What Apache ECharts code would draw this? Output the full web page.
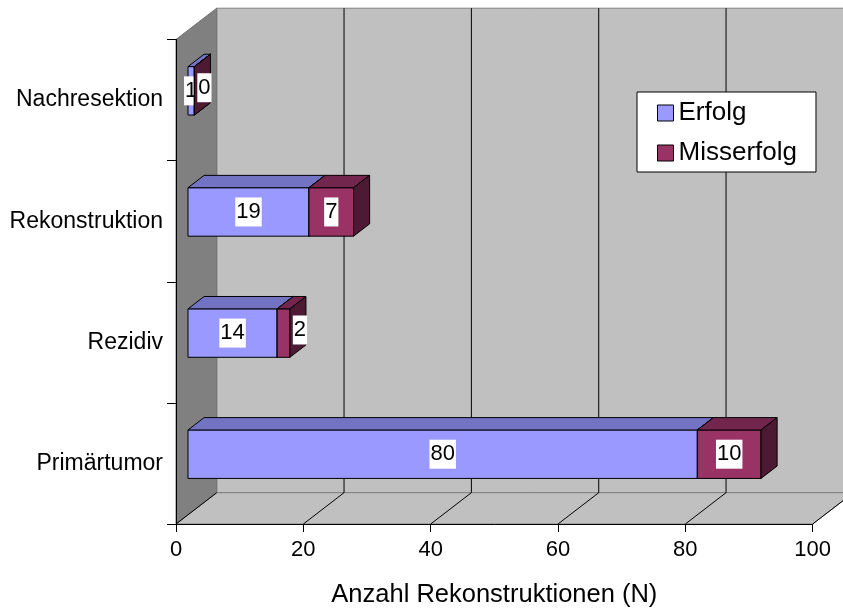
<!DOCTYPE html>
<html>
<head>
<meta charset="utf-8">
<script src="https://cdn.jsdelivr.net/npm/echarts@6/dist/echarts.min.js"></script>
<style>html,body{margin:0;padding:0;background:#fff;}#c{width:843px;height:613px;}</style>
</head>
<body>
<div id="c"></div>
<script>
const categories = ['Primärtumor', 'Rezidiv', 'Rekonstruktion', 'Nachresektion'];
const erfolg = [80, 14, 19, 1];
const misserfolg = [10, 2, 7, 0];
const xTicks = [0, 20, 40, 60, 80, 100];
const seriesNames = ['Erfolg', 'Misserfolg'];

const FONT = "'Liberation Sans', Arial, sans-serif";
const DX = 40.7, DY = -31.3;          // depth of the 3D box
const BAR_FRONT = 0.295, BAR_BACK = 0.69;
const BAR_RATIO = 0.4;
const faces = [
  { front: '#9999FF', top: '#7373C4', side: '#4D4D80' },
  { front: '#993366', top: '#73264D', side: '#4D1A33' }
];

const chart = echarts.init(document.getElementById('c'));

function wallsRender(params, api) {
  const cs = params.coordSys;
  const L = cs.x, T = cs.y, R = cs.x + cs.width, B = cs.y + cs.height;
  const children = [];
  children.push({ type: 'polygon', shape: { points: [[L + DX, T + DY], [R + DX, T + DY], [R + DX, B + DY], [L + DX, B + DY]] },
    style: { fill: '#C0C0C0', stroke: '#808080', lineWidth: 1 } });
  children.push({ type: 'polygon', shape: { points: [[L, B], [R, B], [R + DX, B + DY], [L + DX, B + DY]] },
    style: { fill: '#C0C0C0', stroke: '#808080', lineWidth: 1 } });
  children.push({ type: 'polygon', shape: { points: [[L, T], [L + DX, T + DY], [L + DX, B + DY], [L, B]] },
    style: { fill: '#808080', stroke: '#707070', lineWidth: 1 } });
  xTicks.forEach(function (v) {
    const xx = api.coord([v, 0])[0];
    if (v > 0) {
      children.push({ type: 'line', shape: { x1: xx + DX, y1: T + DY, x2: xx + DX, y2: B + DY }, style: { stroke: '#000', lineWidth: 1 } });
    }
    children.push({ type: 'line', shape: { x1: xx, y1: B, x2: xx + DX, y2: B + DY }, style: { stroke: '#000', lineWidth: 1 } });
  });
  return { type: 'group', children: children };
}

function makeBarRender(si, isLast) {
  return function (params, api) {
    const start = api.value(0), end = api.value(1), cat = api.value(2), val = api.value(3);
    const p0 = api.coord([start, cat]);
    const p1 = api.coord([end, cat]);
    const band = api.size([0, 1])[1];
    const h = band * BAR_RATIO;
    const fx = BAR_FRONT * DX, fy = BAR_FRONT * DY;
    const ddx = (BAR_BACK - BAR_FRONT) * DX, ddy = (BAR_BACK - BAR_FRONT) * DY;
    const x0 = p0[0] + fx, x1 = p1[0] + fx;
    const yc = p0[1] + fy;
    const top = yc - h / 2, bot = yc + h / 2;
    const f = faces[si];
    const st = { stroke: '#000', lineWidth: 1, lineJoin: 'round' };
    const children = [
      { type: 'polygon', shape: { points: [[x0, top], [x1, top], [x1, bot], [x0, bot]] }, style: Object.assign({ fill: f.front }, st) },
      { type: 'polygon', shape: { points: [[x0, top], [x1, top], [x1 + ddx, top + ddy], [x0 + ddx, top + ddy]] }, style: Object.assign({ fill: f.top }, st) },
      { type: 'polygon', shape: { points: [[x1, top], [x1 + ddx, top + ddy], [x1 + ddx, bot + ddy], [x1, bot]] }, style: Object.assign({ fill: f.side }, st) }
    ];
    const txt = String(val);
    const estW = txt.length * 0.556 * 22 + 2;
    let lx = (x0 + x1) / 2, ly = yc;
    if (isLast && estW > (x1 - x0)) {
      lx = x1 + ddx / 2 + 2;
      ly = yc + ddy / 4;
    }
    children.push({ type: 'text', z2: 10, style: {
      text: txt, x: lx, y: ly, align: 'center', verticalAlign: 'middle',
      fill: '#000', font: '22px ' + FONT, backgroundColor: '#fff', padding: [2, 1, 1, 1], lineHeight: 26
    } });
    return { type: 'group', children: children };
  };
}

const stackData = [[], []];
categories.forEach(function (c, i) {
  stackData[0].push([0, erfolg[i], i, erfolg[i]]);
  stackData[1].push([erfolg[i], erfolg[i] + misserfolg[i], i, misserfolg[i]]);
});

const option = {
  animation: false,
  backgroundColor: '#fff',
  grid: { left: 176, top: 39.5, width: 636.7, height: 484.5, containLabel: false },
  legend: {
    orient: 'vertical', left: 637, top: 92,
    data: seriesNames,
    itemWidth: 16, itemHeight: 16, itemGap: 14,
    padding: [8, 19, 6, 20],
    backgroundColor: '#fff', borderColor: '#000', borderWidth: 1,
    icon: 'rect',
    itemStyle: { borderColor: '#000', borderWidth: 1 },
    textStyle: { fontFamily: FONT, fontSize: 26, color: '#000' }
  },
  xAxis: {
    type: 'value', min: 0, max: 100, interval: 20, z: 1,
    name: 'Anzahl Rekonstruktionen (N)', nameLocation: 'middle', nameGap: 58,
    nameTextStyle: { fontFamily: FONT, fontSize: 25.5, color: '#000' },
    axisLine: { show: true, lineStyle: { color: '#000', width: 1 } },
    axisTick: { show: true, length: 8, lineStyle: { color: '#000' } },
    axisLabel: { fontFamily: FONT, fontSize: 22, color: '#000', margin: 15 },
    splitLine: { show: false }
  },
  yAxis: {
    type: 'category', data: categories, z: 1,
    axisLine: { show: true, lineStyle: { color: '#000', width: 1 } },
    axisTick: { show: true, length: 9, lineStyle: { color: '#000' } },
    axisLabel: { fontFamily: FONT, fontSize: 23, color: '#000', margin: 13 },
    splitLine: { show: false }
  },
  series: [
    { type: 'custom', name: '_walls', z: 0, silent: true, data: [[0, 0]], encode: { x: 0, y: 1 }, renderItem: wallsRender, clip: false },
    { type: 'custom', name: seriesNames[0], z: 2, data: stackData[0], encode: { x: [0, 1], y: 2 },
      itemStyle: { color: faces[0].front, borderColor: '#000', borderWidth: 1 }, renderItem: makeBarRender(0, false), clip: false },
    { type: 'custom', name: seriesNames[1], z: 3, data: stackData[1], encode: { x: [0, 1], y: 2 },
      itemStyle: { color: faces[1].front, borderColor: '#000', borderWidth: 1 }, renderItem: makeBarRender(1, true), clip: false }
  ]
};
chart.setOption(option);
</script>
</body>
</html>
